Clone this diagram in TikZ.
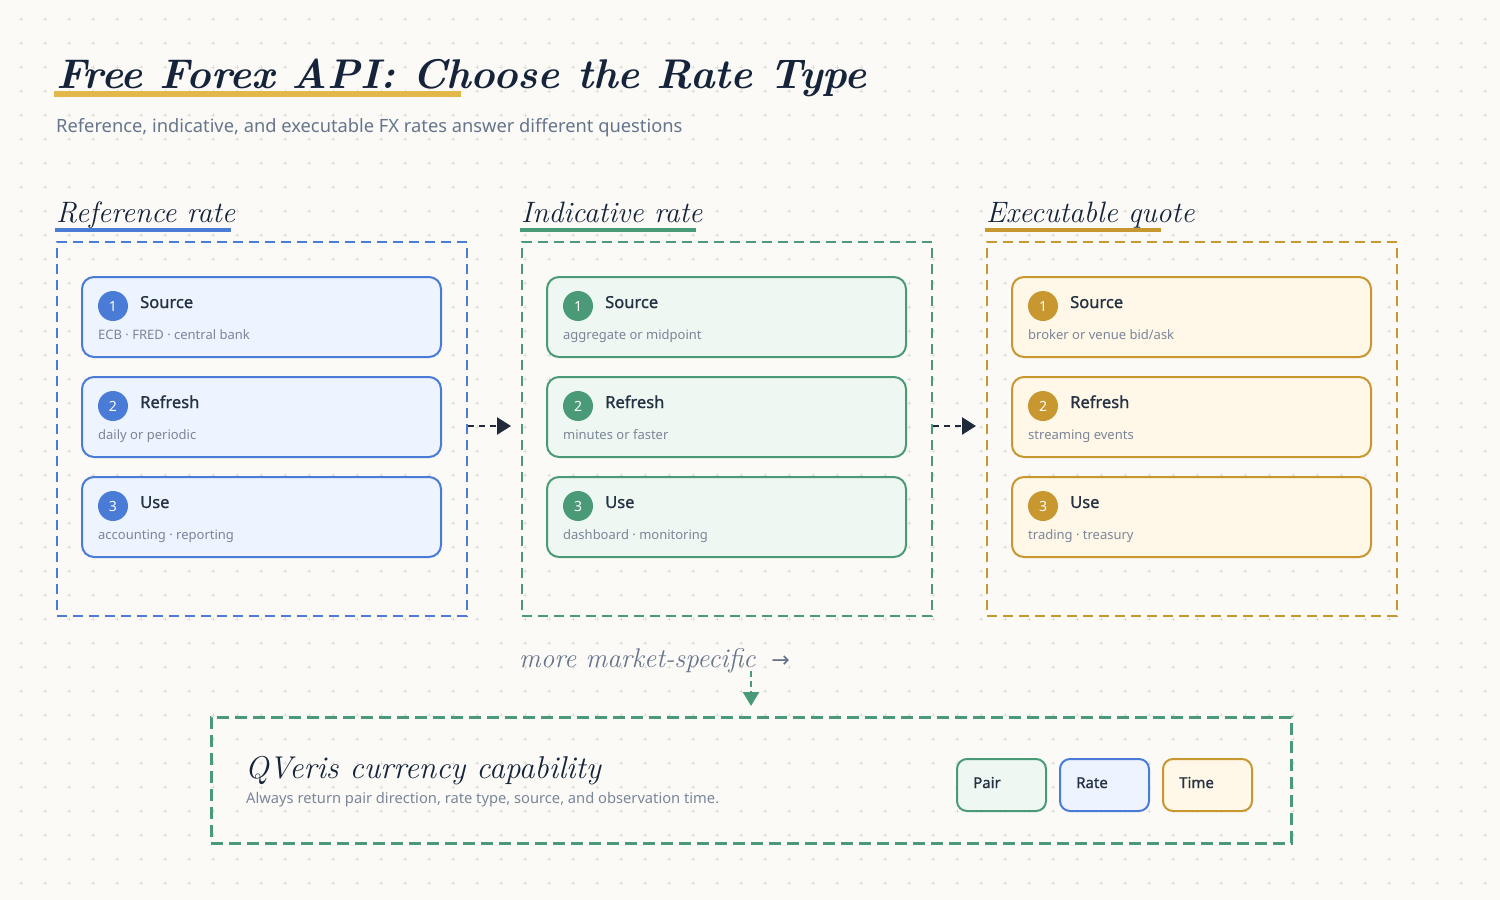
\documentclass[tikz,border=0pt]{standalone}
\usepackage{fontspec}
\newfontfamily\uifont{Noto Sans}
\newfontfamily\uiboldfont{Noto Sans}[FakeBold=1.1]
\newfontfamily\symfont{DejaVu Sans}
\usetikzlibrary{arrows.meta}
\definecolor{bg}{HTML}{FBFAF6}
\definecolor{plusc}{HTML}{E2E0DA}
\definecolor{navy}{HTML}{15243A}
\definecolor{subgrey}{HTML}{66748C}
\definecolor{mutegrey}{HTML}{7B8699}
\definecolor{darktext}{HTML}{253244}
\definecolor{hl}{HTML}{E2B84A}
\definecolor{cblue}{HTML}{4A7BD6}
\definecolor{cgreen}{HTML}{4A9A78}
\definecolor{cgold}{HTML}{C9972F}
\definecolor{fblue}{HTML}{EDF3FF}
\definecolor{fgreen}{HTML}{EEF7F1}
\definecolor{fgold}{HTML}{FFF7E7}
\definecolor{arrowdark}{HTML}{1F2A3A}
\tikzset{
  hand/.style={font=\itshape\fontsize{#1}{#1}\selectfont, text=navy, inner sep=0, anchor=base west},
  ui/.style={font=\uifont\fontsize{#1}{#1}\selectfont, inner sep=0, anchor=base west},
  colbox/.style={draw=#1, line width=2pt, dash pattern=on 10pt off 6pt, minimum width=410pt, minimum height=374pt, anchor=north west, inner sep=0},
  card/.style={draw=#1, line width=2pt, rounded corners=12pt, minimum width=359pt, minimum height=80pt, anchor=north west, inner sep=0},
  numdot/.style={circle, fill=#1, minimum size=30pt, inner sep=0, text=white, font=\uifont\fontsize{14}{14}\selectfont},
  cardtitle/.style={ui=17, font=\uiboldfont\fontsize{16.5}{16.5}\selectfont, text=darktext},
  cardsub/.style={ui=13, text=mutegrey},
  flowarrow/.style={draw=arrowdark, line width=2.5pt, dash pattern=on 6pt off 5pt, -{Triangle[length=14pt,width=17pt]}, shorten >=10pt},
  chip/.style={draw=#1, line width=2pt, rounded corners=10pt, minimum width=89pt, minimum height=52pt, anchor=north west, inner sep=0},
  chiptext/.style={ui=15.5, font=\uiboldfont\fontsize{15}{15}\selectfont, text=darktext},
}
% column: name, x offset, colour, fill, heading, sub1, sub2, sub3
\newcommand\fxcol[8]{%
  \draw[#3, line width=4pt] (#2+55,230) -- (#2+231,230);
  \node[hand=29.5] (#1head) at (#2+56,222) {#5};
  \node[colbox=#3] (#1box) at (#2+56,241) {};
  \node[card=#3, fill=#4] (#1c1) at (#2+81,276) {};
  \node[card=#3, fill=#4] (#1c2) at (#2+81,376) {};
  \node[card=#3, fill=#4] (#1c3) at (#2+81,476) {};
  \node[numdot=#3] (#1n1) at (#2+113,306) {1};
  \node[numdot=#3] (#1n2) at (#2+113,406) {2};
  \node[numdot=#3] (#1n3) at (#2+113,506) {3};
  \node[cardtitle] (#1t1) at (#2+140,308) {Source};
  \node[cardtitle] (#1t2) at (#2+140,408) {Refresh};
  \node[cardtitle] (#1t3) at (#2+140,508) {Use};
  \node[cardsub] (#1s1) at (#2+98,339) {#6};
  \node[cardsub] (#1s2) at (#2+98,439) {#7};
  \node[cardsub] (#1s3) at (#2+98,539) {#8};
}
\begin{document}
\begin{tikzpicture}[x=1pt,y=-1pt]
\fill[bg] (0,0) rectangle (1500,900);
\useasboundingbox (0,0) rectangle (1500,900);
\foreach \x in {21,45,...,1500}{\foreach \y in {19,43,...,900}{%
  \draw[plusc, line width=0.8pt] (\x-2,\y) -- (\x+2,\y) (\x,\y-2) -- (\x,\y+2);}}
% title
\draw[hl, line width=6pt] (54,94) -- (461,94);
\node[hand=44, font=\bfseries\itshape\fontsize{41.5}{41.5}\selectfont] (title) at (56,88) {Free Forex API: Choose the Rate Type};
\node[ui=18.3, text=subgrey] (subtitle) at (56,132) {Reference, indicative, and executable FX rates answer different questions};
% columns
\fxcol{ref}{0}{cblue}{fblue}{Reference rate}{ECB · FRED · central bank}{daily or periodic}{accounting · reporting}
\fxcol{ind}{465}{cgreen}{fgreen}{Indicative rate}{aggregate or midpoint}{minutes or faster}{dashboard · monitoring}
\fxcol{exe}{930}{cgold}{fgold}{Executable quote}{broker or venue bid/ask}{streaming events}{trading · treasury}
% flow arrows
\draw[flowarrow] ([yshift=3pt]refbox.east) -- ([yshift=3pt]indbox.west);
\draw[flowarrow] ([yshift=3pt]indbox.east) -- ([yshift=3pt]exebox.west);
% more market-specific
\node[hand=27, text=subgrey] (more) at (519,667) {more market-specific\hspace{16pt}{\symfont\fontsize{22}{22}\selectfont →}};
% capability box
\node[draw=cgreen, line width=2.5pt, dash pattern=on 12pt off 6pt, minimum width=1080pt, minimum height=126pt, anchor=north west, inner sep=0] (capbox) at (210,716) {};
\coordinate (mdown) at (751,671);
\draw[draw=cgreen, line width=2.5pt, dash pattern=on 6pt off 4pt, -{Triangle[length=14pt,width=16pt]}, shorten >=10pt] (mdown) -- (mdown |- capbox.north);
\node[hand=31.5] (captitle) at (245,778) {QVeris currency capability};
\node[ui=14.7, text=mutegrey] (capsub) at (246,803) {Always return pair direction, rate type, source, and observation time.};
\node[chip=cgreen, fill=fgreen] (pair) at (956,758) {};
\node[chip=cblue, fill=fblue] (rate) at (1059,758) {};
\node[chip=cgold, fill=fgold] (time) at (1162,758) {};
\node[chiptext] (pairt) at (973,788) {Pair};
\node[chiptext] (ratet) at (1076,788) {Rate};
\node[chiptext] (timet) at (1179,788) {Time};
\end{tikzpicture}
\end{document}
